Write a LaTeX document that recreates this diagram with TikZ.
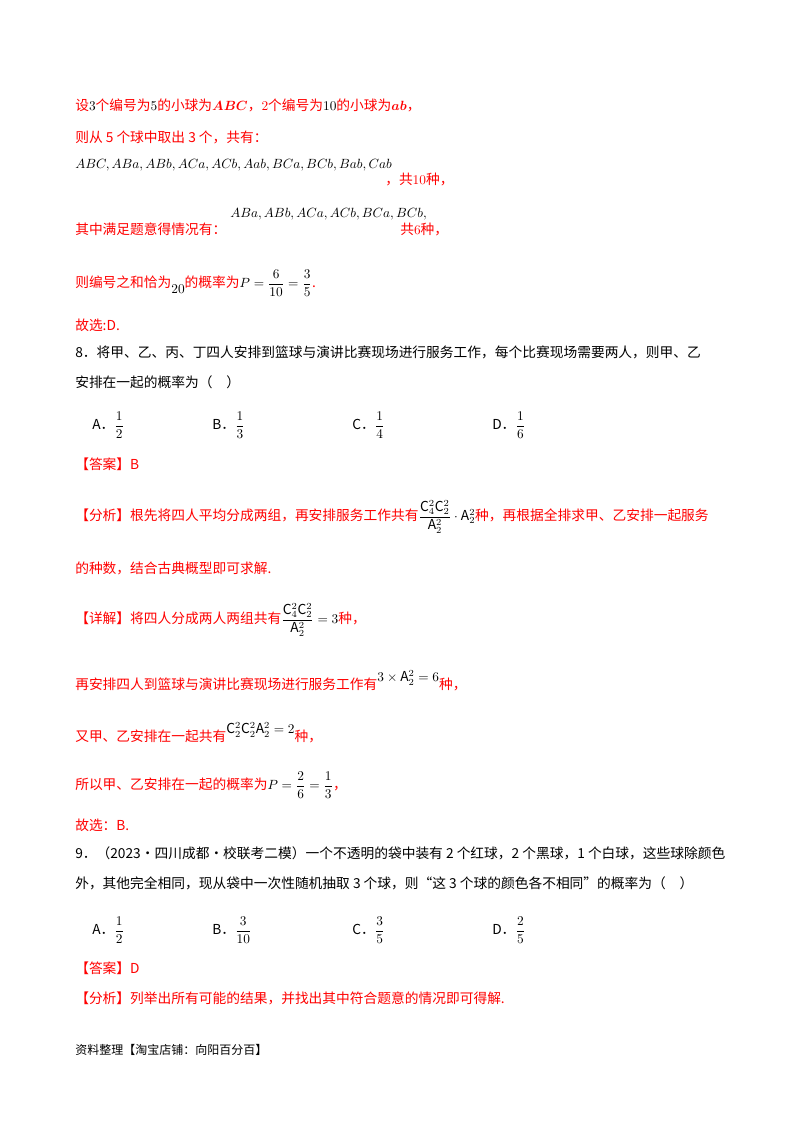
\documentclass[tikz,border=0pt]{standalone}
\usepackage{amsmath}
\usepackage{fontspec}
\setmainfont{Noto Sans CJK SC}
\definecolor{rd}{RGB}{255,0,0}
\begin{document}
\begin{tikzpicture}[x=0.75pt,y=-0.75pt,
  t/.style={anchor=west,inner sep=0pt,font=\fontsize{10.3}{12}\selectfont},
  r/.style={t,text=rd}]
\useasboundingbox (0,0) rectangle (800,1132);
\fill[white] (0,0) rectangle (800,1132);
\node[r] (l1) at (75,105) {设$\color{black}3$个编号为$\color{black}5$的小球为$\boldsymbol{ABC}$，$2$个编号为$\color{black}10$的小球为$\boldsymbol{ab}$，};
\node[r] (l2) at (75,137) {则从 5 个球中取出 3 个，共有：};
\node[t] (l3) at (75,165) {$ABC,ABa,ABb,ACa,ACb,Aab,BCa,BCb,Bab,Cab$};
\node[r] (l3b) at (385,179) {，共$10$种，};
\node[r] (l4) at (75,229) {其中满足题意得情况有：};
\node[t] (l4m) at (230,214) {$ABa,ABb,ACa,ACb,BCa,BCb,$};
\node[r] (l4b) at (400,229) {共$6$种，};
\node[r] (l5) at (75,283) {则编号之和恰为\raisebox{-5pt}{$\color{black}20$}的概率为$\color{black}P=\dfrac{6}{10}=\dfrac{3}{5}$.};
\node[r] (l6) at (75,325) {故选:D.};
\node[t] (q8) at (75,352) {8．将甲、乙、丙、丁四人安排到篮球与演讲比赛现场进行服务工作，每个比赛现场需要两人，则甲、乙};
\node[t] (q8b) at (75,382) {安排在一起的概率为（\quad）};
\node[t] (a) at (92,425) {A．$\dfrac12$};
\node[t] (b) at (212,425) {B．$\dfrac13$};
\node[t] (c) at (352,425) {C．$\dfrac14$};
\node[t] (d) at (492,425) {D．$\dfrac16$};
\node[r] (ans) at (75,464) {【答案】B};
\node[r] (an1) at (75,517) {【分析】根先将四人平均分成两组，再安排服务工作共有$\color{black}\dfrac{\mathrm{C}_4^2\mathrm{C}_2^2}{\mathrm{A}_2^2}\cdot\mathrm{A}_2^2$种，再根据全排求甲、乙安排一起服务};
\node[r] (an2) at (75,568) {的种数，结合古典概型即可求解.};
\node[r] (x1) at (75,620) {【详解】将四人分成两人两组共有$\color{black}\dfrac{\mathrm{C}_4^2\mathrm{C}_2^2}{\mathrm{A}_2^2}=3$种，};
\node[r] (x2) at (75,681) {再安排四人到篮球与演讲比赛现场进行服务工作有\raisebox{6pt}{$\color{black}3\times\mathrm{A}_2^2=6$}种，};
\node[r] (x3) at (75,733) {又甲、乙安排在一起共有\raisebox{6pt}{$\color{black}\mathrm{C}_2^2\mathrm{C}_2^2\mathrm{A}_2^2=2$}种，};
\node[r] (x4) at (75,785) {所以甲、乙安排在一起的概率为$\color{black}P=\dfrac26=\dfrac13$，};
\node[r] (x5) at (75,825) {故选：B.};
\node[t] (q9) at (75,853) {9．（2023·四川成都·校联考二模）一个不透明的袋中装有 2 个红球，2 个黑球，1 个白球，这些球除颜色};
\node[t] (q9b) at (75,883) {外，其他完全相同，现从袋中一次性随机抽取 3 个球，则“这 3 个球的颜色各不相同”的概率为（\quad）};
\node[t] (a9) at (92,930) {A．$\dfrac12$};
\node[t] (b9) at (212,930) {B．$\dfrac{3}{10}$};
\node[t] (c9) at (352,930) {C．$\dfrac35$};
\node[t] (d9) at (492,930) {D．$\dfrac25$};
\node[r] (ans9) at (75,968) {【答案】D};
\node[r] (an9) at (75,998) {【分析】列举出所有可能的结果，并找出其中符合题意的情况即可得解.};
\node[t,font=\fontsize{9}{11}\selectfont] (ft) at (75,1050) {资料整理【淘宝店铺：向阳百分百】};
\end{tikzpicture}
\end{document}
